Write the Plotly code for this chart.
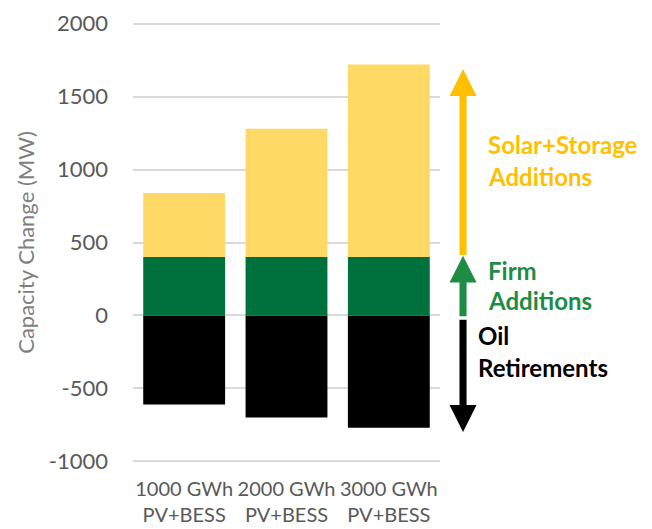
import plotly.graph_objects as go

categories = ["1000 GWh<br>PV+BESS", "2000 GWh<br>PV+BESS", "3000 GWh<br>PV+BESS"]
oil_retirements = [-610, -700, -770]
firm_additions = [400, 400, 400]
solar_storage_additions = [440, 880, 1320]
y_ticks = [-1000, -500, 0, 500, 1000, 1500, 2000]
y_tick_labels = ["-1000", "-500", "0", "500", "1000", "1500", "2000"]

FONT = "Lato"
YELLOW_BAR = "#FFD966"
GREEN_BAR = "#00703C"
YELLOW_ARROW = "#FFC000"
GREEN_ARROW = "#1E8C45"

fig = go.Figure()
fig.add_trace(go.Bar(x=categories, y=oil_retirements, marker_color="#000000",
                     marker_line_width=0, name="Oil Retirements"))
fig.add_trace(go.Bar(x=categories, y=firm_additions, marker_color=GREEN_BAR,
                     marker_line_width=0, name="Firm Additions"))
fig.add_trace(go.Bar(x=categories, y=solar_storage_additions, marker_color=YELLOW_BAR,
                     marker_line_width=0, name="Solar+Storage Additions"))

# arrows (shapes in paper-x / data-y coordinates)
ax_c = 1.075
shaft_hw = 0.0115
head_hw = 0.044
head_h = 185

def arrow(y0, y1, color):
    d = 1 if y1 > y0 else -1
    yb = y1 - d * head_h
    path = (f"M {ax_c - shaft_hw},{y0} L {ax_c + shaft_hw},{y0} L {ax_c + shaft_hw},{yb} "
            f"L {ax_c + head_hw},{yb} L {ax_c},{y1} L {ax_c - head_hw},{yb} "
            f"L {ax_c - shaft_hw},{yb} Z")
    fig.add_shape(type="path", path=path, xref="paper", yref="y",
                  fillcolor=color, line_width=0, layer="above")

firm = firm_additions[0]
top = max(f + s for f, s in zip(firm_additions, solar_storage_additions))
bottom = min(oil_retirements)
arrow(firm + 15, top - 30, YELLOW_ARROW)
arrow(-5, firm + 10, GREEN_ARROW)
arrow(-30, bottom - 30, "#000000")

def label(text, x, y, color):
    fig.add_annotation(text=f"<b>{text}</b>", xref="paper", yref="y", x=x, y=y,
                       xanchor="left", yanchor="middle", showarrow=False,
                       font=dict(family=FONT, size=24, color=color))

label("Solar+Storage", 1.15, 1170, YELLOW_ARROW)
label("Additions", 1.15, 952, YELLOW_ARROW)
label("Firm", 1.15, 306, GREEN_ARROW)
label("Additions", 1.15, 100, GREEN_ARROW)
label("Oil", 1.118, -136, "#000000")
label("Retirements", 1.118, -354, "#000000")

fig.update_layout(
    width=652, height=529,
    barmode="relative", bargap=0.2,
    showlegend=False,
    plot_bgcolor="white", paper_bgcolor="white",
    margin=dict(l=125, r=220, t=14, b=74),
    font=dict(family=FONT, color="#595959"),
    xaxis=dict(tickfont=dict(size=20, color="#595959"), showgrid=False,
               showline=False, ticks="", ticklabelstandoff=12, automargin=False),
    yaxis=dict(range=[-1012, 2012], tickvals=y_ticks, ticktext=y_tick_labels,
               showgrid=True, gridcolor="#D9D9D9", gridwidth=1.5, zeroline=True,
               zerolinecolor="#D9D9D9", zerolinewidth=1.5, automargin=False,
               tickfont=dict(size=22, color="#595959"), ticklabelstandoff=24,
               title=dict(text="Capacity Change (MW)", standoff=8,
                          font=dict(size=22, color="#7F7F7F"))),
)

fig.write_html("out.html")
